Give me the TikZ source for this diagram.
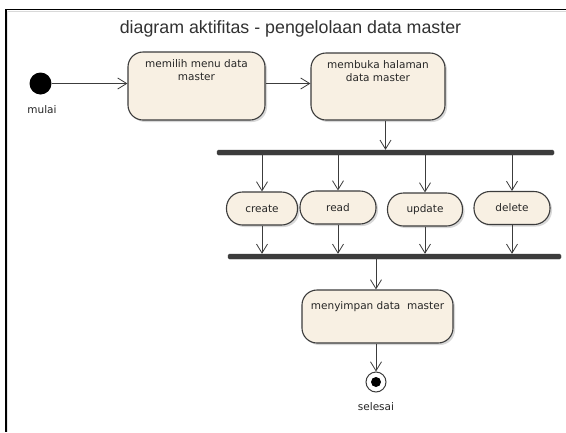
\documentclass[tikz,border=0pt]{standalone}
\usepackage{fontspec}
\setmainfont{DejaVu Sans}
\newfontfamily\titlefont{Liberation Sans}
\usetikzlibrary{arrows.meta,shadows}
\definecolor{actfill}{RGB}{248,240,227}
\definecolor{actline}{RGB}{60,60,60}
\definecolor{titlegray}{RGB}{50,50,50}
\tikzset{
  txt/.style={font=\fontsize{10.5}{13}\selectfont, text=black!85},
  actbox/.style={draw=actline, line width=1.1pt, fill=actfill, rounded corners=15pt,
    drop shadow={shadow xshift=2pt, shadow yshift=-2pt, fill=black!25, opacity=0.6},
    inner sep=0pt},
  oval/.style={draw=actline, line width=1.1pt, fill=actfill, rounded corners=16pt,
    drop shadow={shadow xshift=2pt, shadow yshift=-2pt, fill=black!25, opacity=0.6},
    inner sep=0pt, minimum height=33pt, txt},
  boxlbl/.style={anchor=north, align=center, yshift=-5pt, txt},
  syncbar/.style={fill=actline, draw=actline, rounded corners=1.5pt, minimum height=5pt, inner sep=0pt},
  flow/.style={draw=actline, line width=0.9pt, -{Straight Barb[length=9pt, width=11pt, line width=0.8pt]}},
}
\begin{document}
\begin{tikzpicture}[x=1pt, y=-1pt]
  \useasboundingbox (0,0) rectangle (566,432);
  \fill[white] (0,0) rectangle (566,432);
  % diagram frame
  \draw[black!15, line width=1pt] (7,11.5) -- (566,11.5);
  \draw[black!10, line width=1pt] (7.5,11) -- (7.5,432);
  \draw[black, line width=1.4pt] (566,9.5) -- (6,9.5) -- (6,432);
  \node[font=\titlefont\fontsize{17.8}{20}\selectfont, text=titlegray] (title) at (290.5,28.5) {diagram aktifitas - pengelolaan data master};

  % initial node
  \node[circle, fill=black, minimum size=22pt, inner sep=0pt] (start) at (40.5,83.5) {};
  \node[txt] (startlbl) at (42,110) {mulai};

  % actions
  \node[actbox, minimum width=137pt, minimum height=68pt,
        label={[boxlbl]north:memilih menu data\\master}] (b1) at (196.5,86) {};
  \node[actbox, minimum width=134pt, minimum height=67pt,
        label={[boxlbl]north:membuka halaman\\data master}] (b2) at (378,86.5) {};

  % fork bar
  \node[syncbar, minimum width=337pt] (fork) at (385.5,152.5) {};

  \node[oval, minimum width=71pt] (create) at (262,208.5) {create};
  \node[oval, minimum width=76pt] (read)   at (338,207.5) {read};
  \node[oval, minimum width=75pt] (update) at (425,209.5) {update};
  \node[oval, minimum width=76pt] (delete) at (512,208) {delete};

  % join bar
  \node[syncbar, minimum width=333pt] (join) at (394.5,256.5) {};

  \node[actbox, minimum width=151pt, minimum height=53pt,
        label={[boxlbl, yshift=-4pt]north:menyimpan data\ \ master}] (b3) at (377.5,316.5) {};

  % final node
  \node[circle, draw=actline, line width=1pt, fill=white, minimum size=20pt, inner sep=0pt] (end) at (376,382) {};
  \fill[black] (end.center) circle (5pt);
  \node[txt] (endlbl) at (376,407) {selesai};

  % control flows
  \draw[flow] (start.east) -- (start.east -| b1.west);
  \draw[flow] (b1.east |- start.east) -- (b2.west |- start.east);
  \draw[flow] (fork.north |- b2.south) -- (fork.north);
  \foreach \a in {create, read, update, delete} {
    \draw[flow] (fork.south -| \a.north) -- (\a.north);
    \draw[flow] (\a.south) -- (join.north -| \a.south);
  }
  \draw[flow] (join.south -| end.north) -- (end.north |- b3.north);
  \draw[flow] (b3.south -| end.north) -- (end.north);
\end{tikzpicture}
\end{document}
